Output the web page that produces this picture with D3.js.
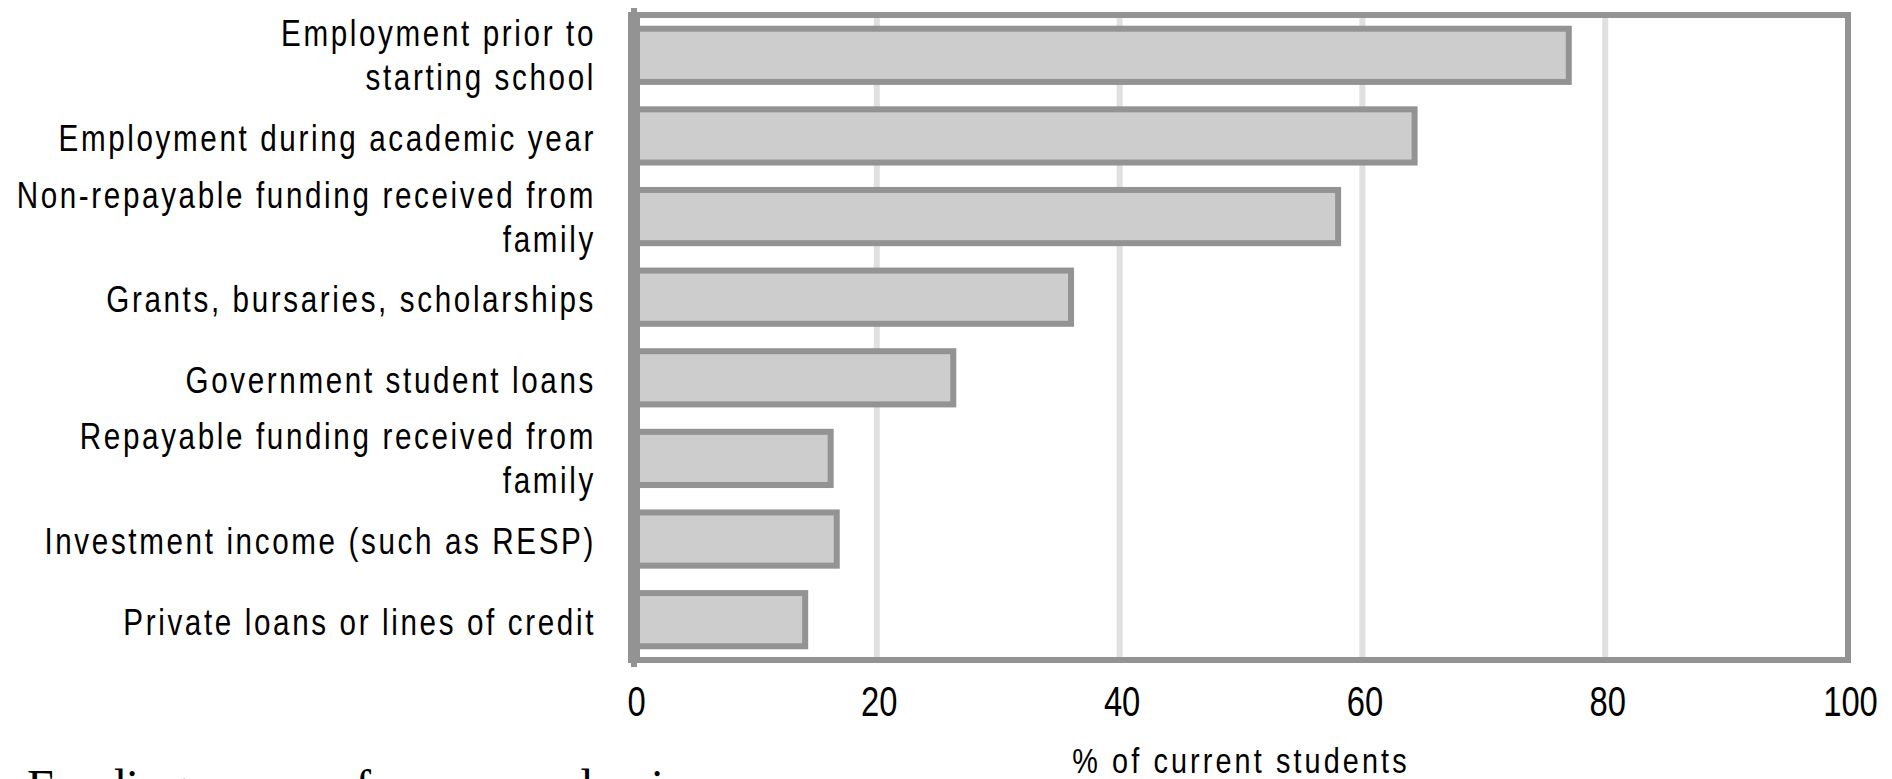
<!DOCTYPE html>
<html>
<head>
<meta charset="utf-8">
<script src="https://cdn.jsdelivr.net/npm/d3@7"></script>
<style>
  body { margin: 0; background: #fff; }
  svg { display: block; }
</style>
</head>
<body>
<svg id="chart" width="1892" height="779"></svg>
<script>
// Funding sources, share of current students (%)
const categories = [
  "Employment prior to\nstarting school",
  "Employment during academic year",
  "Non-repayable funding received from\nfamily",
  "Grants, bursaries, scholarships",
  "Government student loans",
  "Repayable funding received from\nfamily",
  "Investment income (such as RESP)",
  "Private loans or lines of credit"
];
const values = [77, 64.3, 58, 36, 26.3, 16.2, 16.7, 14.1];
const xTicks = [0, 20, 40, 60, 80, 100];
const xTitle = "% of current students";
const caption = "Funding sources for one academic year";

const svg = d3.select("#chart");
const sans = "'Liberation Sans', Arial, sans-serif";
const narrow = 0.8; // horizontal squeeze for the condensed look of the labels
const border = "#939393", fill = "#cdcdcd", grid = "#e0e0e0";

const plot = { left: 634, right: 1848, top: 15, bottom: 660 };

const x = d3.scaleLinear().domain([0, 100]).range([plot.left, plot.right]);
const y = d3.scaleBand().domain(categories)
  .range([plot.top, plot.bottom])
  .paddingInner(0.34).paddingOuter(0.17);

// vertical gridlines
svg.append("g").selectAll("line")
  .data(xTicks.filter(t => t > 0 && t < 100))
  .join("line")
  .attr("x1", d => x(d)).attr("x2", d => x(d))
  .attr("y1", plot.top).attr("y2", plot.bottom)
  .attr("stroke", grid).attr("stroke-width", 6);

// plot frame
svg.append("rect")
  .attr("x", plot.left).attr("y", plot.top)
  .attr("width", plot.right - plot.left).attr("height", plot.bottom - plot.top)
  .attr("fill", "none").attr("stroke", border).attr("stroke-width", 6);

// bars
svg.append("g").selectAll("rect")
  .data(categories.map((c, i) => ({ c, v: values[i] })))
  .join("rect")
  .attr("x", x(0)).attr("y", d => y(d.c))
  .attr("width", d => x(d.v) - x(0))
  .attr("height", y.bandwidth())
  .attr("fill", fill).attr("stroke", border).attr("stroke-width", 6);

// left axis line (heavier than the frame)
svg.append("line")
  .attr("x1", x(0)).attr("x2", x(0))
  .attr("y1", plot.top - 3).attr("y2", plot.bottom + 3)
  .attr("stroke", border).attr("stroke-width", 12);
svg.append("line")
  .attr("x1", x(0)).attr("x2", x(0))
  .attr("y1", plot.top - 7).attr("y2", plot.bottom + 7)
  .attr("stroke", border).attr("stroke-width", 6);

// category labels
const yAxis = svg.append("g")
  .attr("transform", `translate(${plot.left - 38},0)`)
  .call(d3.axisLeft(y).tickSize(0).tickPadding(0));
yAxis.select(".domain").remove();
yAxis.selectAll("text")
  .attr("font-family", sans).attr("font-size", 37)
  .attr("letter-spacing", 3.3).attr("fill", "#000")
  .attr("transform", `scale(${narrow},1)`)
  .each(function(d) {
    const lines = d.split("\n");
    const t = d3.select(this).text(null).attr("dy", null);
    const lh = 44;
    const y0 = (lines.length === 1 ? 15 : 13) - (lines.length - 1) * lh / 2;
    lines.forEach((ln, i) => {
      t.append("tspan").attr("x", 0).attr("y", y0 + i * lh).text(ln);
    });
  });

// x axis tick labels
const xAxis = svg.append("g")
  .attr("transform", `translate(2,${plot.bottom})`)
  .call(d3.axisBottom(x).tickValues(xTicks).tickSize(0).tickPadding(26));
xAxis.select(".domain").remove();
xAxis.selectAll("text")
  .attr("font-family", sans).attr("font-size", 42).attr("fill", "#000")
  .attr("transform", "scale(0.78,1)");

// x axis title
svg.append("g")
  .attr("transform", `translate(${(plot.left + plot.right) / 2},773) scale(${narrow},1)`)
  .append("text")
  .attr("text-anchor", "middle")
  .attr("font-family", sans).attr("font-size", 36).attr("letter-spacing", 3.9)
  .attr("fill", "#000")
  .text(xTitle);

// caption below the chart
svg.append("text")
  .attr("x", 27).attr("y", 803)
  .attr("font-family", "'Liberation Serif', 'Times New Roman', serif")
  .attr("font-size", 48).attr("fill", "#000")
  .text(caption);
</script>
</body>
</html>
